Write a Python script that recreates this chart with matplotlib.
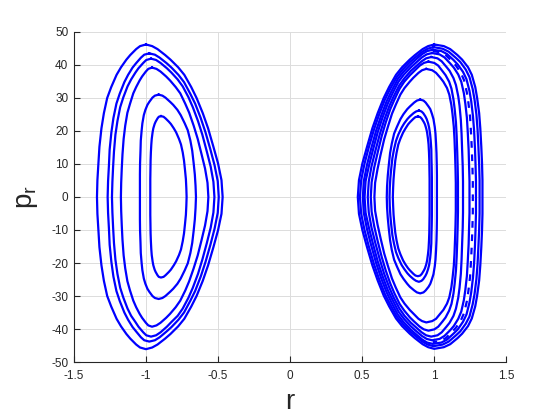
import matplotlib
matplotlib.use("Agg")
import matplotlib.pyplot as plt

plt.rcParams["font.family"] = ["Liberation Sans", "DejaVu Sans"]
plt.rcParams["mathtext.default"] = "regular"
plt.rcParams["axes.unicode_minus"] = False

# poincare section loops
# each loop: p going from top to bottom, r of the left edge and r of the right edge at those p

# left well
p_L1 = [46.2, 45.7, 44.8, 43.0, 41.6, 39.3, 37.0, 33.3, 30.0, 25.4, 20.8, 15.2, 10.2, 5.1, 0, -5.1, -10.1, -15.2, -20.7, -25.4, -30.0, -33.2, -36.9, -39.2, -41.5, -42.9, -44.7, -45.6, -46.1]
left_L1 = [-1.0, -1.041, -1.068, -1.109, -1.136, -1.173, -1.204, -1.241, -1.269, -1.292, -1.309, -1.323, -1.33, -1.337, -1.34, -1.337, -1.33, -1.323, -1.309, -1.292, -1.269, -1.241, -1.204, -1.173, -1.136, -1.109, -1.068, -1.041, -1.0]
right_L1 = [-1.0, -0.957, -0.92, -0.867, -0.83, -0.777, -0.734, -0.686, -0.649, -0.606, -0.569, -0.532, -0.50, -0.476, -0.468, -0.476, -0.50, -0.532, -0.569, -0.606, -0.649, -0.686, -0.734, -0.777, -0.83, -0.867, -0.92, -0.957, -1.0]

p_L2 = [43.5, 43.1, 42.2, 40.5, 39.2, 37.0, 34.8, 31.3, 28.3, 23.9, 19.6, 14.4, 9.6, 4.8, 0, -4.8, -9.6, -14.5, -19.7, -24.1, -28.5, -31.5, -35.0, -37.2, -39.4, -40.7, -42.5, -43.4, -43.8]
left_L2 = [-0.977, -1.012, -1.035, -1.069, -1.093, -1.124, -1.15, -1.182, -1.205, -1.226, -1.24, -1.252, -1.257, -1.263, -1.266, -1.263, -1.257, -1.252, -1.24, -1.226, -1.205, -1.182, -1.15, -1.124, -1.093, -1.069, -1.035, -1.012, -0.977]
right_L2 = [-0.977, -0.938, -0.905, -0.856, -0.823, -0.775, -0.736, -0.693, -0.659, -0.62, -0.587, -0.553, -0.524, -0.502, -0.495, -0.502, -0.524, -0.553, -0.587, -0.62, -0.659, -0.693, -0.736, -0.775, -0.823, -0.856, -0.905, -0.938, -0.977]

p_L3 = [41.9, 41.5, 40.6, 39.0, 37.7, 35.6, 33.5, 30.2, 27.2, 23.0, 18.9, 13.8, 9.2, 4.6, 0, -4.7, -9.3, -14.0, -19.0, -23.3, -27.5, -30.5, -33.8, -36.0, -37.9, -39.3, -41.0, -41.9, -42.3]
left_L3 = [-0.965, -0.998, -1.019, -1.052, -1.073, -1.103, -1.128, -1.157, -1.179, -1.198, -1.212, -1.222, -1.228, -1.233, -1.236, -1.233, -1.228, -1.222, -1.212, -1.198, -1.179, -1.157, -1.128, -1.103, -1.073, -1.052, -1.019, -0.998, -0.965]
right_L3 = [-0.965, -0.93, -0.899, -0.855, -0.824, -0.78, -0.745, -0.705, -0.675, -0.639, -0.609, -0.578, -0.551, -0.532, -0.525, -0.532, -0.551, -0.578, -0.609, -0.639, -0.675, -0.705, -0.745, -0.78, -0.824, -0.855, -0.899, -0.93, -0.965]

p_L4 = [39.2, 38.8, 38.0, 36.5, 35.3, 33.3, 31.4, 28.2, 25.5, 21.6, 17.6, 12.9, 8.6, 4.3, 0, -4.3, -8.6, -13.0, -17.7, -21.6, -25.5, -28.3, -31.4, -33.4, -35.4, -36.6, -38.1, -38.9, -39.3]
left_L4 = [-0.958, -0.984, -1.001, -1.027, -1.044, -1.068, -1.088, -1.111, -1.129, -1.144, -1.155, -1.163, -1.168, -1.172, -1.174, -1.172, -1.168, -1.163, -1.155, -1.144, -1.129, -1.111, -1.088, -1.068, -1.044, -1.027, -1.001, -0.984, -0.958]
right_L4 = [-0.958, -0.927, -0.899, -0.86, -0.833, -0.794, -0.762, -0.727, -0.7, -0.669, -0.641, -0.614, -0.59, -0.573, -0.567, -0.573, -0.59, -0.614, -0.641, -0.669, -0.7, -0.727, -0.762, -0.794, -0.833, -0.86, -0.899, -0.927, -0.958]

p_L5 = [31.0, 30.7, 30.1, 28.8, 27.9, 26.4, 24.8, 22.3, 20.2, 17.1, 14.0, 10.2, 6.8, 3.4, 0, -3.4, -6.8, -10.2, -13.9, -17.0, -20.1, -22.2, -24.7, -26.3, -27.8, -28.7, -30.0, -30.6, -30.9]
left_L5 = [-0.912, -0.938, -0.955, -0.977, -0.99, -1.004, -1.015, -1.025, -1.03, -1.036, -1.038, -1.041, -1.042, -1.042, -1.042, -1.042, -1.042, -1.041, -1.038, -1.036, -1.03, -1.025, -1.015, -1.004, -0.99, -0.977, -0.955, -0.938, -0.912]
right_L5 = [-0.912, -0.886, -0.865, -0.832, -0.811, -0.782, -0.759, -0.731, -0.71, -0.692, -0.679, -0.669, -0.661, -0.656, -0.653, -0.656, -0.661, -0.669, -0.679, -0.692, -0.71, -0.731, -0.759, -0.782, -0.811, -0.832, -0.865, -0.886, -0.912]

p_L6 = [24.5, 24.3, 23.8, 22.8, 22.1, 20.8, 19.6, 17.6, 15.9, 13.5, 11.0, 8.1, 5.4, 2.7, 0, -2.7, -5.4, -8.1, -11.0, -13.4, -15.9, -17.6, -19.5, -20.7, -22.0, -22.7, -23.7, -24.2, -24.4]
left_L6 = [-0.896, -0.911, -0.92, -0.933, -0.94, -0.949, -0.954, -0.96, -0.963, -0.966, -0.968, -0.969, -0.97, -0.97, -0.97, -0.97, -0.97, -0.969, -0.968, -0.966, -0.963, -0.96, -0.954, -0.949, -0.94, -0.933, -0.92, -0.911, -0.896]
right_L6 = [-0.896, -0.878, -0.864, -0.841, -0.827, -0.807, -0.791, -0.771, -0.757, -0.745, -0.736, -0.729, -0.723, -0.72, -0.718, -0.72, -0.723, -0.729, -0.736, -0.745, -0.757, -0.771, -0.791, -0.807, -0.827, -0.841, -0.864, -0.878, -0.896]

# right well, outer band
p_B1 = [46.2, 45.7, 44.8, 43.0, 41.6, 39.3, 37.0, 33.3, 30.0, 25.4, 20.8, 15.2, 10.2, 5.1, 0, -5.1, -10.1, -15.2, -20.7, -25.3, -29.9, -33.1, -36.8, -39.1, -41.4, -42.8, -44.6, -45.5, -46.0]
left_B1 = [1.0, 0.958, 0.92, 0.867, 0.83, 0.777, 0.735, 0.687, 0.65, 0.608, 0.571, 0.534, 0.502, 0.478, 0.47, 0.478, 0.502, 0.534, 0.571, 0.608, 0.65, 0.687, 0.735, 0.777, 0.83, 0.867, 0.92, 0.958, 1.0]
right_B1 = [1.0, 1.067, 1.111, 1.161, 1.194, 1.235, 1.261, 1.285, 1.298, 1.312, 1.32, 1.327, 1.332, 1.335, 1.335, 1.335, 1.332, 1.327, 1.32, 1.312, 1.298, 1.285, 1.261, 1.235, 1.194, 1.161, 1.111, 1.067, 1.0]

p_B2 = [45.4, 44.9, 44.0, 42.2, 40.9, 38.6, 36.3, 32.7, 29.5, 25.0, 20.4, 15.0, 10.0, 5.0, 0, -5.0, -9.9, -14.9, -20.3, -24.9, -29.4, -32.5, -36.2, -38.4, -40.7, -42.0, -43.8, -44.7, -45.2]
left_B2 = [0.995, 0.954, 0.918, 0.867, 0.832, 0.781, 0.74, 0.694, 0.658, 0.618, 0.582, 0.546, 0.516, 0.493, 0.485, 0.493, 0.516, 0.546, 0.582, 0.618, 0.658, 0.694, 0.74, 0.781, 0.832, 0.867, 0.918, 0.954, 0.995]
right_B2 = [0.995, 1.059, 1.101, 1.149, 1.181, 1.219, 1.245, 1.267, 1.28, 1.293, 1.301, 1.307, 1.312, 1.315, 1.315, 1.315, 1.312, 1.307, 1.301, 1.293, 1.28, 1.267, 1.245, 1.219, 1.181, 1.149, 1.101, 1.059, 0.995]

p_B3 = [44.6, 44.2, 43.3, 41.5, 40.1, 37.9, 35.7, 32.1, 29.0, 24.5, 20.1, 14.7, 9.8, 4.9, 0, -4.9, -9.8, -14.7, -20.0, -24.5, -28.9, -32.0, -35.6, -37.8, -40.1, -41.4, -43.2, -44.1, -44.5]
left_B3 = [0.99, 0.951, 0.917, 0.869, 0.835, 0.786, 0.747, 0.704, 0.67, 0.631, 0.597, 0.563, 0.534, 0.512, 0.505, 0.512, 0.534, 0.563, 0.597, 0.631, 0.67, 0.704, 0.747, 0.786, 0.835, 0.869, 0.917, 0.951, 0.99]
right_B3 = [0.99, 1.05, 1.089, 1.134, 1.164, 1.2, 1.224, 1.245, 1.257, 1.269, 1.277, 1.283, 1.287, 1.29, 1.29, 1.29, 1.287, 1.283, 1.277, 1.269, 1.257, 1.245, 1.224, 1.2, 1.164, 1.134, 1.089, 1.05, 0.99]

p_B4 = [43.6, 43.2, 42.3, 40.5, 39.2, 37.1, 34.9, 31.4, 28.3, 24.0, 19.6, 14.4, 9.6, 4.8, 0, -4.8, -9.5, -14.3, -19.5, -23.9, -28.2, -31.2, -34.7, -36.9, -39.1, -40.4, -42.1, -43.0, -43.4]
left_B4 = [0.985, 0.948, 0.915, 0.869, 0.836, 0.79, 0.752, 0.711, 0.678, 0.641, 0.608, 0.576, 0.548, 0.524, 0.517, 0.524, 0.548, 0.576, 0.608, 0.641, 0.678, 0.711, 0.752, 0.79, 0.836, 0.869, 0.915, 0.948, 0.985]
right_B4 = [0.985, 1.037, 1.071, 1.11, 1.136, 1.167, 1.188, 1.206, 1.216, 1.227, 1.233, 1.239, 1.242, 1.245, 1.245, 1.245, 1.242, 1.239, 1.233, 1.227, 1.216, 1.206, 1.188, 1.167, 1.136, 1.11, 1.071, 1.037, 0.985]

# island chain just inside the band on the outer side (seen as dashes)
p_isl = [44.2, 43.8, 42.9, 41.1, 39.8, 37.6, 35.4, 31.8, 28.7, 24.3, 19.9, 14.6, 9.7, 4.9, 0, -4.8, -9.7, -14.5, -19.8, -24.2, -28.6, -31.7, -35.2, -37.4, -39.6, -40.9, -42.7, -43.6, -44.0]
r_isl = [0.99, 1.046, 1.082, 1.123, 1.151, 1.185, 1.207, 1.226, 1.237, 1.249, 1.255, 1.261, 1.265, 1.268, 1.268, 1.268, 1.265, 1.261, 1.255, 1.249, 1.237, 1.226, 1.207, 1.185, 1.151, 1.123, 1.082, 1.046, 0.99]

# right well, inner loops
p_R2 = [42.4, 42.0, 41.1, 39.4, 38.2, 36.0, 33.9, 30.5, 27.6, 23.3, 19.1, 14.0, 9.3, 4.7, 0, -4.7, -9.3, -14.0, -19.0, -23.3, -27.5, -30.5, -33.8, -36.0, -38.1, -39.3, -41.0, -41.9, -42.3]
left_R2 = [0.979, 0.944, 0.913, 0.869, 0.838, 0.794, 0.759, 0.719, 0.689, 0.653, 0.623, 0.592, 0.565, 0.546, 0.539, 0.546, 0.565, 0.592, 0.623, 0.653, 0.689, 0.719, 0.759, 0.794, 0.838, 0.869, 0.913, 0.944, 0.979]
right_R2 = [0.979, 1.023, 1.052, 1.085, 1.107, 1.134, 1.151, 1.167, 1.176, 1.185, 1.19, 1.194, 1.198, 1.20, 1.20, 1.20, 1.198, 1.194, 1.19, 1.185, 1.176, 1.167, 1.151, 1.134, 1.107, 1.085, 1.052, 1.023, 0.979]

p_R3 = [41.0, 40.6, 39.8, 38.1, 36.9, 34.9, 32.8, 29.5, 26.7, 22.6, 18.5, 13.5, 9.0, 4.5, 0, -4.5, -8.9, -13.4, -18.2, -22.3, -26.3, -29.2, -32.4, -34.4, -36.5, -37.7, -39.3, -40.1, -40.5]
left_R3 = [0.96, 0.928, 0.90, 0.86, 0.832, 0.792, 0.76, 0.724, 0.696, 0.664, 0.636, 0.608, 0.584, 0.566, 0.56, 0.566, 0.584, 0.608, 0.636, 0.664, 0.696, 0.724, 0.76, 0.792, 0.832, 0.86, 0.90, 0.928, 0.96]
right_R3 = [0.96, 1.001, 1.028, 1.058, 1.079, 1.104, 1.12, 1.134, 1.142, 1.151, 1.156, 1.16, 1.163, 1.165, 1.165, 1.165, 1.163, 1.16, 1.156, 1.151, 1.142, 1.134, 1.12, 1.104, 1.079, 1.058, 1.028, 1.001, 0.96]

p_R4 = [38.8, 38.4, 37.6, 36.1, 34.9, 33.0, 31.0, 27.9, 25.2, 21.3, 17.5, 12.8, 8.5, 4.3, 0, -4.2, -8.4, -12.5, -17.1, -20.9, -24.7, -27.4, -30.4, -32.3, -34.2, -35.3, -36.9, -37.6, -38.0]
left_R4 = [0.945, 0.916, 0.891, 0.855, 0.83, 0.794, 0.765, 0.733, 0.707, 0.679, 0.653, 0.628, 0.607, 0.59, 0.585, 0.59, 0.607, 0.628, 0.653, 0.679, 0.707, 0.733, 0.765, 0.794, 0.83, 0.855, 0.891, 0.916, 0.945]
right_R4 = [0.945, 0.986, 1.013, 1.043, 1.064, 1.089, 1.105, 1.119, 1.127, 1.136, 1.141, 1.145, 1.148, 1.15, 1.15, 1.15, 1.148, 1.145, 1.141, 1.136, 1.127, 1.119, 1.105, 1.089, 1.064, 1.043, 1.013, 0.986, 0.945]

p_R5 = [29.5, 29.2, 28.6, 27.4, 26.6, 25.1, 23.6, 21.2, 19.2, 16.2, 13.3, 9.7, 6.5, 3.2, 0, -3.2, -6.4, -9.6, -13.1, -16.1, -19.0, -21.0, -23.4, -24.8, -26.3, -27.2, -28.3, -28.9, -29.2]
left_R5 = [0.903, 0.88, 0.861, 0.831, 0.813, 0.787, 0.766, 0.741, 0.722, 0.706, 0.694, 0.685, 0.678, 0.673, 0.671, 0.673, 0.678, 0.685, 0.694, 0.706, 0.722, 0.741, 0.766, 0.787, 0.813, 0.831, 0.861, 0.88, 0.903]
right_R5 = [0.903, 0.926, 0.941, 0.961, 0.973, 0.985, 0.995, 1.004, 1.009, 1.013, 1.016, 1.018, 1.019, 1.019, 1.019, 1.019, 1.019, 1.018, 1.016, 1.013, 1.009, 1.004, 0.995, 0.985, 0.973, 0.961, 0.941, 0.926, 0.903]

p_R6 = [26.2, 25.9, 25.4, 24.4, 23.6, 22.3, 21.0, 18.9, 17.0, 14.4, 11.8, 8.6, 5.8, 2.9, 0, -2.8, -5.7, -8.5, -11.6, -14.1, -16.7, -18.5, -20.6, -21.8, -23.1, -23.9, -24.9, -25.4, -25.7]
left_R6 = [0.894, 0.874, 0.857, 0.831, 0.814, 0.792, 0.774, 0.751, 0.735, 0.721, 0.71, 0.702, 0.696, 0.692, 0.69, 0.692, 0.696, 0.702, 0.71, 0.721, 0.735, 0.751, 0.774, 0.792, 0.814, 0.831, 0.857, 0.874, 0.894]
right_R6 = [0.894, 0.912, 0.924, 0.939, 0.948, 0.958, 0.965, 0.972, 0.976, 0.98, 0.981, 0.983, 0.984, 0.984, 0.984, 0.984, 0.984, 0.983, 0.981, 0.98, 0.976, 0.972, 0.965, 0.958, 0.948, 0.939, 0.924, 0.912, 0.894]

p_R7 = [24.4, 24.2, 23.7, 22.7, 22.0, 20.7, 19.5, 17.6, 15.9, 13.4, 11.0, 8.1, 5.4, 2.7, 0, -2.6, -5.3, -7.9, -10.8, -13.2, -15.6, -17.3, -19.2, -20.4, -21.6, -22.3, -23.3, -23.8, -24.0]
left_R7 = [0.887, 0.87, 0.856, 0.833, 0.819, 0.8, 0.784, 0.765, 0.751, 0.739, 0.73, 0.723, 0.718, 0.715, 0.713, 0.715, 0.718, 0.723, 0.73, 0.739, 0.751, 0.765, 0.784, 0.8, 0.819, 0.833, 0.856, 0.87, 0.887]
right_R7 = [0.887, 0.903, 0.914, 0.928, 0.936, 0.945, 0.951, 0.957, 0.961, 0.964, 0.966, 0.967, 0.968, 0.968, 0.968, 0.968, 0.968, 0.967, 0.966, 0.964, 0.961, 0.957, 0.951, 0.945, 0.936, 0.928, 0.914, 0.903, 0.887]

loops = [
    (p_L1, left_L1, right_L1), (p_L2, left_L2, right_L2), (p_L3, left_L3, right_L3),
    (p_L4, left_L4, right_L4), (p_L5, left_L5, right_L5), (p_L6, left_L6, right_L6),
    (p_B1, left_B1, right_B1), (p_B2, left_B2, right_B2), (p_B3, left_B3, right_B3),
    (p_B4, left_B4, right_B4),
    (p_R2, left_R2, right_R2), (p_R3, left_R3, right_R3), (p_R4, left_R4, right_R4),
    (p_R5, left_R5, right_R5), (p_R6, left_R6, right_R6), (p_R7, left_R7, right_R7),
]

xticks = [-1.5, -1, -0.5, 0, 0.5, 1, 1.5]
xlabels = ["-1.5", "-1", "-0.5", "0", "0.5", "1", "1.5"]
yticks = [-50, -40, -30, -20, -10, 0, 10, 20, 30, 40, 50]
ylabels = ["-50", "-40", "-30", "-20", "-10", "0", "10", "20", "30", "40", "50"]

fig = plt.figure(figsize=(5.6, 4.2), dpi=100)
ax = fig.add_axes([0.132, 0.138, 0.772, 0.786])

for p, left, right in loops:
    # down the right edge, then back up the left edge
    rr = right + left[::-1]
    pp = p + p[::-1]
    ax.plot(rr, pp, color="#0000ff", lw=1.6, solid_joinstyle="round")

ax.plot(r_isl, p_isl, color="#0000ff", lw=1.6, dashes=(3, 3))

ax.set_xlim(-1.5, 1.5)
ax.set_ylim(-50, 50)
ax.set_xticks(xticks)
ax.set_xticklabels(xlabels)
ax.set_yticks(yticks)
ax.set_yticklabels(ylabels)
ax.grid(True, color="#dcdcdc", lw=0.7)
ax.set_axisbelow(True)
ax.spines["top"].set_visible(False)
ax.spines["right"].set_visible(False)
for s in ["left", "bottom"]:
    ax.spines[s].set_color("#262626")
    ax.spines[s].set_linewidth(0.8)
ax.tick_params(direction="in", length=4, width=0.8, colors="#262626", labelsize=8.5)
ax.tick_params(axis="x", pad=6)
ax.tick_params(axis="y", pad=4)

ax.set_xlabel("r", fontsize=20, color="#262626", labelpad=5)
ax.set_ylabel("$p_r$", fontsize=20, color="#262626", labelpad=8)

fig.savefig("out.png", dpi=100)
